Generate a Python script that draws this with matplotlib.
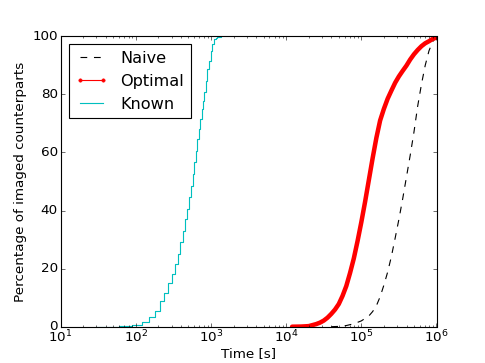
import matplotlib
matplotlib.use('Agg')
from matplotlib import pyplot as plt
from matplotlib.lines import Line2D

# values (time in s, percentage imaged)
# Naive strategy (black dashed)
naive_t = [39810, 50120, 63100, 79430, 100000, 125900, 141300, 158500, 177800, 199500,
           223900, 251200, 281800, 316200, 354800, 398100, 446700, 501200, 562300,
           631000, 707900, 794300, 891300, 1000000]
naive_pct = [0, 0.1, 0.4, 1.0, 2.0, 3.7, 5.2, 7.2, 10.3, 14.3,
             18.8, 24.2, 30.5, 37.0, 44.0, 51.5, 59.0, 67.0, 76.0,
             83.5, 90.0, 95.0, 98.2, 99.8]

# Optimal strategy (red)
opt_t = [12000, 15850, 19950, 25120, 28180, 31620, 35480, 39810, 44670, 50120, 56230,
         63100, 70790, 79430, 89130, 100000, 112200, 125900, 141300, 158500, 177800,
         199500, 223900, 251200, 281800, 316200, 354800, 398100, 446700, 501200,
         562300, 631000, 707900, 794300, 891300, 1000000]
opt_pct = [0, 0.05, 0.2, 0.9, 1.4, 2.1, 3.1, 4.4, 5.9, 7.8, 10.6,
           14.0, 18.5, 23.5, 29.5, 36.0, 43.0, 50.5, 58.0, 65.0, 71.0,
           75.0, 78.5, 81.3, 84.0, 86.2, 88.1, 89.9, 92.0, 93.8,
           95.3, 96.6, 97.6, 98.3, 99.1, 99.6]

# Known positions (cyan steps)
known_t = [30, 60, 90, 120, 150, 180, 210, 240, 270, 300, 330, 360, 390, 420, 450, 480,
           510, 540, 570, 600, 630, 660, 690, 720, 750, 780, 810, 850, 895, 940, 990,
           1040, 1095, 1150, 1210, 1340]
known_pct = [0, 0.2, 0.7, 1.5, 3.4, 5.3, 8.9, 11.5, 14.9, 18.1, 21.6, 25.0, 29.0, 33.0,
             37.1, 40.5, 44.5, 48.5, 52.6, 56.6, 60.6, 64.6, 68.1, 71.5, 75.0, 77.8,
             80.7, 84.7, 88.7, 91.6, 95.0, 97.3, 99.0, 99.5, 99.8, 100]

plt.style.use('classic')
plt.rcParams['figure.facecolor'] = 'white'
plt.rcParams['savefig.facecolor'] = 'white'
plt.rcParams['xtick.major.pad'] = 1.5
plt.rcParams['xtick.minor.pad'] = 1.5
plt.rcParams['ytick.major.pad'] = 2.5

dpi = 485 / 6.0
fig = plt.figure(figsize=(6, 363 / dpi), dpi=dpi)
ax = fig.add_subplot(111)

ax.plot(naive_t, naive_pct, 'k--')
ax.plot(opt_t, opt_pct, 'r-', lw=4, solid_capstyle='round', solid_joinstyle='round')
ax.plot(known_t, known_pct, 'c-', drawstyle='steps-post')

ax.set_xscale('log')
ax.set_xlim(10, 1e6)
ax.set_ylim(0, 100)
ax.set_xlabel('Time [s]', labelpad=2)
ax.set_ylabel('Percentage of imaged counterparts')

handles = [Line2D([], [], color='k', ls='--'),
           Line2D([], [], color='r', marker='.', ms=6),
           Line2D([], [], color='c')]
ax.legend(handles, ['Naive', 'Optimal', 'Known'], loc='upper left')

fig.savefig('out.png', dpi=dpi)
